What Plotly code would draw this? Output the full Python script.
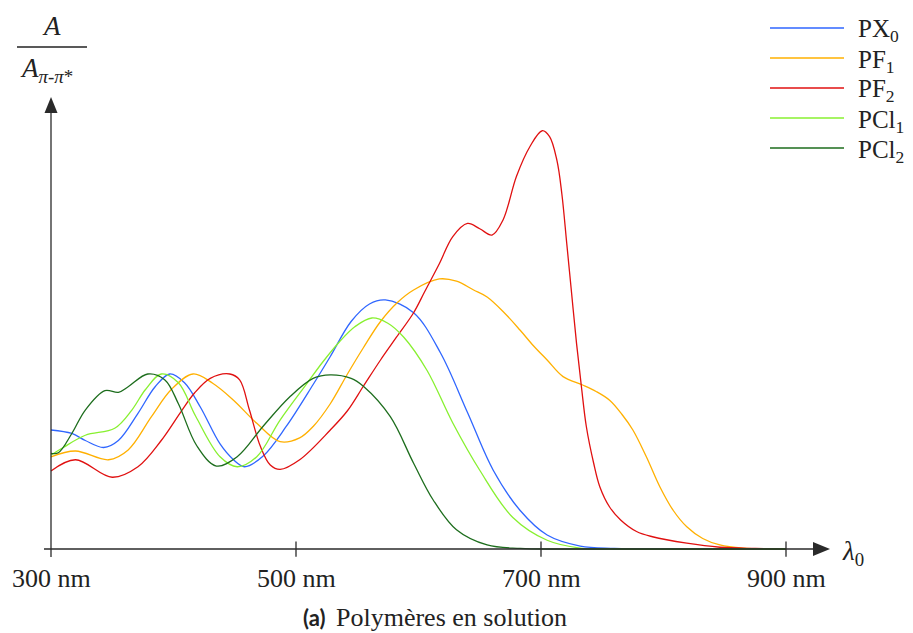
import plotly.graph_objects as go

# ---------------- data ----------------
series_names = ["PX<sub>0</sub>", "PF<sub>1</sub>", "PF<sub>2</sub>", "PCl<sub>1</sub>", "PCl<sub>2</sub>"]
series_colors = ["#2f66ff", "#ffb000", "#e01010", "#88f030", "#1d6d1d"]

px0_nm = [300, 317, 328, 343, 355, 371, 385, 397, 409, 422, 438, 449, 458, 473, 492, 514, 528,
          545, 560, 573, 596, 618, 640, 661, 683, 705, 732, 760, 800, 900]
px0_a = [0.68, 0.66, 0.62, 0.58, 0.62, 0.775, 0.927, 1.0, 0.95, 0.81, 0.60, 0.51, 0.47, 0.53, 0.70,
         0.94, 1.10, 1.30, 1.40, 1.423, 1.35, 1.12, 0.78, 0.45, 0.22, 0.08, 0.017, 0.004, 0.0, 0.0]

pf1_nm = [300, 320, 347, 363, 382, 398, 416, 432, 449, 468, 487, 503, 514, 528, 542, 555, 569, 583,
          596, 617, 631, 645, 656, 670, 683, 694, 705, 718, 734, 745, 756, 766, 775, 786, 797, 808,
          819, 832, 846, 865, 900]
pf1_a = [0.527, 0.56, 0.51, 0.566, 0.756, 0.91, 1.0, 0.947, 0.85, 0.718, 0.613, 0.635, 0.70, 0.83,
         1.0, 1.15, 1.30, 1.41, 1.48, 1.543, 1.53, 1.48, 1.44, 1.35, 1.25, 1.16, 1.08, 0.985, 0.937,
         0.90, 0.85, 0.77, 0.68, 0.527, 0.356, 0.22, 0.127, 0.06, 0.023, 0.005, 0.0]

pf2_nm = [300, 320, 350, 371, 390, 407, 417, 430, 446, 454, 462, 471, 479, 487, 503, 528, 542, 555,
          569, 582, 596, 605, 617, 628, 640, 650, 660, 669, 680, 691, 701, 707, 713, 717, 721, 725,
          729, 733, 737, 743, 748, 756, 765, 778, 791, 819, 846, 875, 900]
pf2_a = [0.446, 0.51, 0.41, 0.47, 0.62, 0.794, 0.89, 0.975, 1.0, 0.966, 0.794, 0.585, 0.48, 0.455,
         0.51, 0.68, 0.79, 0.93, 1.08, 1.21, 1.35, 1.47, 1.63, 1.785, 1.86, 1.83, 1.794, 1.88, 2.13,
         2.30, 2.39, 2.356, 2.22, 2.03, 1.747, 1.46, 1.175, 0.927, 0.70, 0.49, 0.356, 0.24, 0.166,
         0.10, 0.07, 0.033, 0.01, 0.003, 0.0]

pcl1_nm = [300, 310, 328, 352, 366, 377, 390, 404, 418, 438, 452, 468, 487, 509, 522, 535, 548, 562,
           575, 588, 607, 628, 650, 677, 705, 732, 760, 900]
pcl1_a = [0.537, 0.58, 0.65, 0.69, 0.794, 0.91, 1.0, 0.95, 0.76, 0.527, 0.47, 0.527, 0.737, 0.947,
          1.07, 1.18, 1.27, 1.32, 1.29, 1.21, 1.02, 0.72, 0.45, 0.18, 0.05, 0.005, 0.0, 0.0]

pcl2_nm = [300, 306, 317, 328, 344, 355, 363, 379, 393, 404, 419, 435, 452, 473, 495, 514, 528, 545,
           555, 577, 596, 612, 631, 656, 683, 720, 900]
pcl2_a = [0.547, 0.55, 0.66, 0.794, 0.905, 0.895, 0.927, 1.0, 0.966, 0.83, 0.59, 0.474, 0.527, 0.70,
          0.87, 0.975, 0.995, 0.975, 0.93, 0.756, 0.49, 0.28, 0.11, 0.023, 0.003, 0.0, 0.0]

tick_values = [300, 500, 700, 900]
tick_labels = ["300 nm", "500 nm", "700 nm", "900 nm"]

x_nm = [px0_nm, pf1_nm, pf2_nm, pcl1_nm, pcl2_nm]
y_a = [px0_a, pf1_a, pf2_a, pcl1_a, pcl2_a]

# ---------------- figure geometry ----------------
W, H = 913, 633
X_RANGE = [258.37, 1003.67]
Y_RANGE = [-0.48, 3.137]
SERIF = "Liberation Serif"


def pxx(p):
    return p / W


def pxy(p):
    return 1 - p / H


fig = go.Figure()
for name, col, xs, ys in zip(series_names, series_colors, x_nm, y_a):
    fig.add_trace(go.Scatter(x=xs, y=ys, mode="lines", name=name,
                             line=dict(color=col, width=1.3, shape="spline", smoothing=1.0),
                             showlegend=False, hoverinfo="skip"))

shapes = []
ann = []
axis_col = "#2a2a2a"
# x axis
shapes.append(dict(type="line", xref="x", yref="y", x0=294.3, x1=925, y0=0, y1=0,
                   line=dict(color=axis_col, width=1.3)))
shapes.append(dict(type="path", xref="x", yref="y", xsizemode="pixel", ysizemode="pixel",
                   xanchor=935.9, yanchor=0, path="M 0 0 L -17 7 L -17 -7 Z",
                   fillcolor=axis_col, line=dict(width=0)))
# y axis
shapes.append(dict(type="line", xref="x", yref="y", x0=300, x1=300, y0=-0.046, y1=2.53,
                   line=dict(color=axis_col, width=1.3)))
shapes.append(dict(type="path", xref="x", yref="y", xsizemode="pixel", ysizemode="pixel",
                   xanchor=300, yanchor=2.583, path="M 0 0 L -6.5 -16 L 6.5 -16 Z",
                   fillcolor=axis_col, line=dict(width=0)))
# ticks and labels
for tv, tl in zip(tick_values, tick_labels):
    if tv != 300:
        shapes.append(dict(type="line", xref="x", yref="y", x0=tv, x1=tv, y0=-0.044, y1=0.043,
                           line=dict(color=axis_col, width=1.3)))
    ann.append(dict(x=tv, y=pxy(578), xref="x", yref="paper", text=tl, showarrow=False,
                    xanchor="center", yanchor="middle", font=dict(family=SERIF, size=26, color="#222")))

# axis titles
ann.append(dict(x=pxx(840), y=pxy(553), xref="paper", yref="paper", text="<i>λ</i><sub>0</sub>",
                showarrow=False, xanchor="left", yanchor="middle",
                font=dict(family=SERIF, size=27, color="#222")))
ann.append(dict(x=pxx(51), y=pxy(26), xref="paper", yref="paper", text="<i>A</i>",
                showarrow=False, xanchor="center", yanchor="middle",
                font=dict(family=SERIF, size=27, color="#222")))
shapes.append(dict(type="line", xref="paper", yref="paper", x0=pxx(17), x1=pxx(87),
                   y0=pxy(47), y1=pxy(47), line=dict(color="#222", width=1.3)))
ann.append(dict(x=pxx(18), y=pxy(70), xref="paper", yref="paper",
                text="<i>A</i><sub><i>π</i>-<i>π</i>*</sub>",
                showarrow=False, xanchor="left", yanchor="middle",
                font=dict(family=SERIF, size=27, color="#222")))

# legend (manual)
leg_y = [28, 58, 88, 118, 148]
for name, col, ly in zip(series_names, series_colors, leg_y):
    shapes.append(dict(type="line", xref="paper", yref="paper", x0=pxx(770), x1=pxx(844),
                       y0=pxy(ly), y1=pxy(ly), line=dict(color=col, width=1.3)))
    ann.append(dict(x=pxx(856), y=pxy(ly + 3), xref="paper", yref="paper", text=name,
                    showarrow=False, xanchor="left", yanchor="middle",
                    font=dict(family=SERIF, size=25, color="#222")))

# caption
ann.append(dict(x=pxx(327), y=pxy(617), xref="paper", yref="paper", text="<b>(a)</b>",
                showarrow=False, xanchor="right", yanchor="middle",
                font=dict(family="Lato", size=22, color="#222")))
ann.append(dict(x=pxx(334), y=pxy(617), xref="paper", yref="paper", text="Polymères en solution",
                showarrow=False, xanchor="left", yanchor="middle",
                font=dict(family=SERIF, size=26, color="#222")))

fig.update_layout(width=W, height=H, margin=dict(l=0, r=0, t=0, b=0),
                  font=dict(family=SERIF),
                  paper_bgcolor="white", plot_bgcolor="white",
                  xaxis=dict(range=X_RANGE, visible=False, fixedrange=True),
                  yaxis=dict(range=Y_RANGE, visible=False, fixedrange=True),
                  shapes=shapes, annotations=ann)

fig.write_html("out.html", config={"displayModeBar": False},
               post_script="document.body.style.margin='0';")
